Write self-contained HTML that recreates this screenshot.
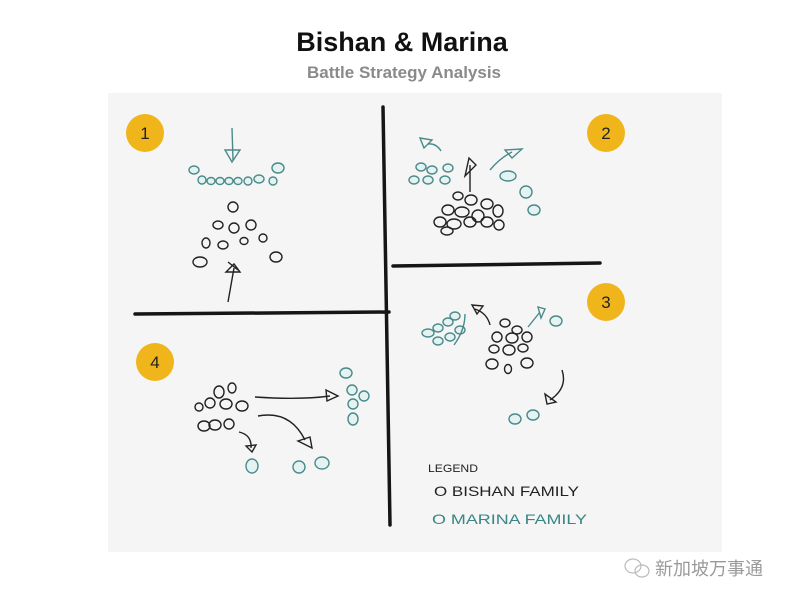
<!DOCTYPE html>
<html><head><meta charset="utf-8"><style>
html,body{margin:0;padding:0;background:#fff;}
body{width:800px;height:603px;position:relative;overflow:hidden;font-family:"Liberation Sans",sans-serif;}
</style></head><body>
<svg width="800" height="603" viewBox="0 0 800 603" xmlns="http://www.w3.org/2000/svg" style="position:absolute;left:0;top:0">
<rect x="0" y="0" width="800" height="603" fill="#fff"/>
<text x="402" y="51" text-anchor="middle" font-family="Liberation Sans, sans-serif" font-weight="bold" font-size="27" fill="#111">Bishan &amp; Marina</text>
<text x="404" y="78" text-anchor="middle" font-family="Liberation Sans, sans-serif" font-weight="bold" font-size="17" fill="#8a8a8a">Battle Strategy Analysis</text>
<rect x="108" y="93" width="614" height="459" fill="#f5f5f5"/>
<g stroke="#151515" stroke-width="3.5" stroke-linecap="round" fill="none">
<path d="M383 107 L390 525"/>
<path d="M135 314 L389 312"/>
<path d="M393 266 L600 263"/>
</g>
<g fill="#f1b51c">
<circle cx="145" cy="133" r="19"/><circle cx="606" cy="133" r="19"/>
<circle cx="606" cy="302" r="19"/><circle cx="155" cy="362" r="19"/>
</g>
<g font-family="Liberation Sans, sans-serif" font-size="17" fill="#222" text-anchor="middle">
<text x="145" y="139">1</text><text x="606" y="139">2</text><text x="606" y="308">3</text><text x="155" y="368">4</text>
</g>
<!-- Q1 -->
<g stroke="#4a8a8a" stroke-width="1.4" fill="#e4f2f2">
<path d="M232 128 L233 160 M225 150 L240 150 L232 162 Z" fill="none"/>
<ellipse cx="194" cy="170" rx="5" ry="4"/><ellipse cx="202" cy="180" rx="4" ry="4"/><ellipse cx="211" cy="181" rx="4" ry="3.5"/><ellipse cx="220" cy="181" rx="4" ry="3.5"/><ellipse cx="229" cy="181" rx="4" ry="3.5"/><ellipse cx="238" cy="181" rx="4" ry="3.5"/><ellipse cx="248" cy="181" rx="4" ry="4"/><ellipse cx="259" cy="179" rx="5" ry="4"/><ellipse cx="278" cy="168" rx="6" ry="5"/><ellipse cx="273" cy="181" rx="4" ry="4"/>
</g>
<g stroke="#222" stroke-width="1.4" fill="none">
<circle cx="233" cy="207" r="5"/>
<ellipse cx="218" cy="225" rx="5" ry="4"/><ellipse cx="234" cy="228" rx="5" ry="5"/><ellipse cx="251" cy="225" rx="5" ry="5"/>
<ellipse cx="206" cy="243" rx="4" ry="5"/><ellipse cx="223" cy="245" rx="5" ry="4"/><ellipse cx="244" cy="241" rx="4" ry="3.5"/><ellipse cx="263" cy="238" rx="4" ry="4"/>
<ellipse cx="200" cy="262" rx="7" ry="5"/><ellipse cx="276" cy="257" rx="6" ry="5"/>
<path d="M228 302 L234 268 M226 272 L240 272 L234 264 Z M228 262 L238 270"/>
</g>
<!-- Q2 -->
<g stroke="#4a8a8a" stroke-width="1.4" fill="#e4f2f2">
<ellipse cx="421" cy="167" rx="5" ry="4"/><ellipse cx="432" cy="170" rx="5" ry="4"/><ellipse cx="448" cy="168" rx="5" ry="4"/>
<ellipse cx="414" cy="180" rx="5" ry="4"/><ellipse cx="428" cy="180" rx="5" ry="4"/><ellipse cx="445" cy="180" rx="5" ry="4"/>
<path d="M441 151 Q436 143 428 144 M420 138 L432 140 L424 148 Z" fill="none"/>
<path d="M490 170 Q500 158 512 152 M505 150 L522 149 L512 158 Z" fill="none"/>
<ellipse cx="508" cy="176" rx="8" ry="5"/><ellipse cx="526" cy="192" rx="6" ry="6"/><ellipse cx="534" cy="210" rx="6" ry="5"/>
</g>
<g stroke="#222" stroke-width="1.4" fill="none">
<path d="M470 192 L470 165 M465 176 L476 165 L469 158 Z"/>
<ellipse cx="458" cy="196" rx="5" ry="4"/><ellipse cx="471" cy="200" rx="6" ry="5"/><ellipse cx="487" cy="204" rx="6" ry="5"/>
<ellipse cx="448" cy="210" rx="6" ry="5"/><ellipse cx="462" cy="212" rx="7" ry="5"/><ellipse cx="478" cy="216" rx="6" ry="6"/><ellipse cx="498" cy="211" rx="5" ry="6"/>
<ellipse cx="440" cy="222" rx="6" ry="5"/><ellipse cx="454" cy="224" rx="7" ry="5"/><ellipse cx="470" cy="222" rx="6" ry="5"/><ellipse cx="487" cy="222" rx="6" ry="5"/><ellipse cx="499" cy="225" rx="5" ry="5"/>
<ellipse cx="447" cy="231" rx="6" ry="4"/>
</g>
<!-- Q3 -->
<g stroke="#4a8a8a" stroke-width="1.4" fill="#e4f2f2">
<ellipse cx="428" cy="333" rx="6" ry="4"/><ellipse cx="438" cy="328" rx="5" ry="4"/><ellipse cx="448" cy="322" rx="5" ry="4"/><ellipse cx="455" cy="316" rx="5" ry="4"/>
<ellipse cx="438" cy="341" rx="5" ry="4"/><ellipse cx="450" cy="337" rx="5" ry="4"/><ellipse cx="460" cy="330" rx="5" ry="4"/>
<path d="M454 345 Q465 330 465 314" fill="none"/>
<path d="M528 327 L540 312 M538 307 L545 309 L541 318 Z" fill="none"/>
<ellipse cx="556" cy="321" rx="6" ry="5"/>
<ellipse cx="515" cy="419" rx="6" ry="5"/><ellipse cx="533" cy="415" rx="6" ry="5"/>
</g>
<g stroke="#222" stroke-width="1.4" fill="none">
<path d="M490 325 Q487 313 475 309 M472 305 L483 306 L477 314 Z"/>
<ellipse cx="505" cy="323" rx="5" ry="4"/><ellipse cx="517" cy="330" rx="5" ry="4"/>
<ellipse cx="497" cy="337" rx="5" ry="5"/><ellipse cx="512" cy="338" rx="6" ry="5"/><ellipse cx="527" cy="337" rx="5" ry="5"/>
<ellipse cx="494" cy="349" rx="5" ry="4"/><ellipse cx="509" cy="350" rx="6" ry="5"/><ellipse cx="523" cy="348" rx="5" ry="4"/>
<ellipse cx="492" cy="364" rx="6" ry="5"/><ellipse cx="508" cy="369" rx="3.5" ry="4.5"/><ellipse cx="527" cy="363" rx="6" ry="5"/>
<path d="M562 370 Q568 388 550 400 M545 394 L547 404 L556 402 Z"/>
</g>
<text x="428" y="472" font-family="Liberation Sans, sans-serif" font-size="11" fill="#222" textLength="50" lengthAdjust="spacingAndGlyphs">LEGEND</text>
<text x="434" y="496" font-family="Liberation Sans, sans-serif" font-size="14" fill="#222" textLength="145" lengthAdjust="spacingAndGlyphs">O BISHAN FAMILY</text>
<text x="432" y="524" font-family="Liberation Sans, sans-serif" font-size="14" fill="#3a8585" textLength="155" lengthAdjust="spacingAndGlyphs">O MARINA FAMILY</text>
<!-- Q4 -->
<g stroke="#222" stroke-width="1.4" fill="none">
<ellipse cx="232" cy="388" rx="4" ry="5"/><ellipse cx="219" cy="392" rx="5" ry="6"/><ellipse cx="210" cy="403" rx="5" ry="5"/><ellipse cx="199" cy="407" rx="4" ry="4"/>
<ellipse cx="226" cy="404" rx="6" ry="5"/><ellipse cx="242" cy="406" rx="6" ry="5"/>
<ellipse cx="204" cy="426" rx="6" ry="5"/><ellipse cx="215" cy="425" rx="6" ry="5"/><ellipse cx="229" cy="424" rx="5" ry="5"/>
<path d="M255 397 Q300 400 330 396 M326 390 L338 396 L327 401 Z"/>
<path d="M258 416 Q290 410 305 440 M298 441 L312 448 L310 437 Z"/>
<path d="M239 432 Q252 435 251 448 M246 446 L252 452 L256 445 Z"/>
</g>
<g stroke="#4a8a8a" stroke-width="1.4" fill="#e4f2f2">
<ellipse cx="346" cy="373" rx="6" ry="5"/><ellipse cx="352" cy="390" rx="5" ry="5"/><ellipse cx="364" cy="396" rx="5" ry="5"/>
<ellipse cx="353" cy="404" rx="5" ry="5"/><ellipse cx="353" cy="419" rx="5" ry="6"/>
<ellipse cx="252" cy="466" rx="6" ry="7"/><ellipse cx="299" cy="467" rx="6" ry="6"/><ellipse cx="322" cy="463" rx="7" ry="6"/>
</g>
<!-- watermark -->
<g stroke="#bbb" stroke-width="1.2" fill="none">
<ellipse cx="633" cy="566" rx="8" ry="7"/><ellipse cx="642" cy="571" rx="7" ry="6"/>
</g>
<text x="655" y="575" font-family="Liberation Sans, Noto Sans CJK SC, sans-serif" font-size="18" fill="#9a9a9a">新加坡万事通</text>
</svg>
</body></html>
